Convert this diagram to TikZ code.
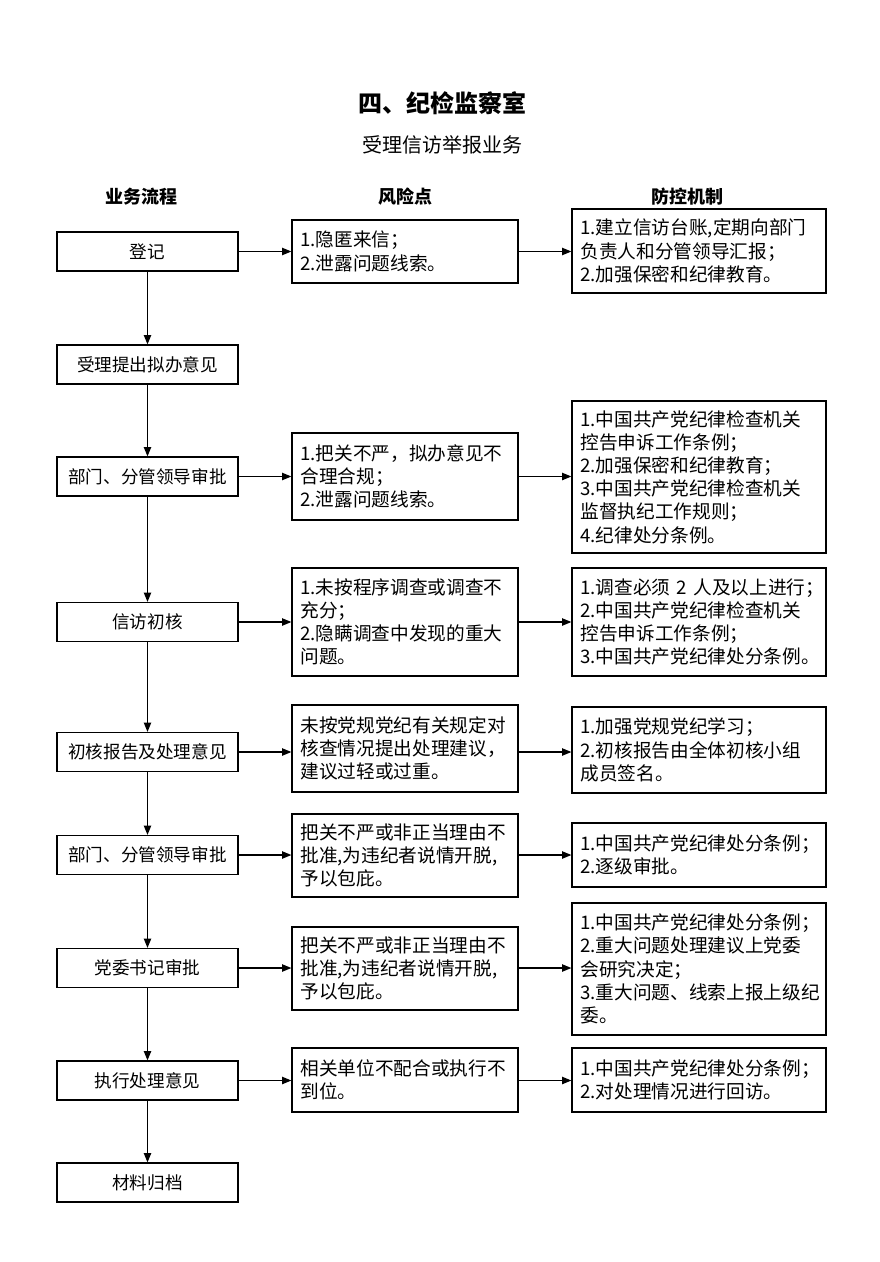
\documentclass[tikz,border=0pt]{standalone}
\usepackage{fontspec}
\setmainfont{Noto Sans CJK SC}
\usetikzlibrary{arrows.meta}
\begin{document}
\begin{tikzpicture}[x=0.75pt,y=-0.75pt,
  flowbox/.style={draw,line width=0.9pt,minimum width=135.75pt,minimum height=29.25pt,inner sep=0pt,font=\fontsize{13.2pt}{16pt}\selectfont},
  riskbox/.style={draw,line width=0.9pt,text width=157pt,inner xsep=6.25pt,inner ysep=0pt,align=left,font=\fontsize{14pt}{17.4pt}\selectfont},
  ctrlbox/.style={draw,line width=0.9pt,text width=178pt,inner xsep=6.25pt,inner ysep=0pt,align=left,font=\fontsize{14pt}{17.4pt}\selectfont},
  boxh/.style={minimum height=#1*0.75pt},
  head/.style={font=\fontsize{13.5pt}{16pt}\selectfont\bfseries},
  conn/.style={line width=0.9pt,-{Triangle[length=7pt,width=5.5pt]}}]
\useasboundingbox (0,0) rectangle (880,1262);
% titles
\node (title) at (442,103) {\fontsize{18pt}{20pt}\selectfont\bfseries 四、纪检监察室};
\node (sub) at (442,145) {\fontsize{15pt}{18pt}\selectfont 受理信访举报业务};
\node[head] (h1) at (141,197) {业务流程};
\node[head] (h2) at (405,197) {风险点};
\node[head] (h3) at (687,197) {防控机制};
% left flow
\node[flowbox] (L1) at (147.5,251.5) {登记};
\node[flowbox] (L2) at (147.5,364.5) {受理提出拟办意见};
\node[flowbox] (L3) at (147.5,476.5) {部门、分管领导审批};
\node[flowbox] (L4) at (147.5,622) {信访初核};
\node[flowbox] (L5) at (147.5,752) {初核报告及处理意见};
\node[flowbox] (L6) at (147.5,855) {部门、分管领导审批};
\node[flowbox] (L7) at (147.5,968) {党委书记审批};
\node[flowbox] (L8) at (147.5,1080.5) {执行处理意见};
\node[flowbox] (L9) at (147.5,1182.5) {材料归档};
% risks
\node[riskbox,boxh=63] (M1) at (405,251.5) {1.隐匿来信；\\2.泄露问题线索。};
\node[riskbox,boxh=87] (M3) at (405,476.5) {1.把关不严，拟办意见不\\合理合规；\\2.泄露问题线索。};
\node[riskbox,boxh=108] (M4) at (405,622) {1.未按程序调查或调查不\\充分；\\2.隐瞒调查中发现的重大\\问题。};
\node[riskbox,boxh=87] (M5) at (405,748.5) {未按党规党纪有关规定对\\核查情况提出处理建议，\\建议过轻或过重。};
\node[riskbox,boxh=83] (M6) at (405,855.5) {把关不严或非正当理由不\\批准,为违纪者说情开脱,\\予以包庇。};
\node[riskbox,boxh=83] (M7) at (405,968.5) {把关不严或非正当理由不\\批准,为违纪者说情开脱,\\予以包庇。};
\node[riskbox,boxh=64] (M8) at (405,1080) {相关单位不配合或执行不\\到位。};
% controls
\node[ctrlbox,boxh=84] (R1) at (699,251) {1.建立信访台账,定期向部门\\负责人和分管领导汇报；\\2.加强保密和纪律教育。};
\node[ctrlbox,boxh=152] (R3) at (699,477) {1.中国共产党纪律检查机关\\控告申诉工作条例；\\2.加强保密和纪律教育；\\3.中国共产党纪律检查机关\\监督执纪工作规则；\\4.纪律处分条例。};
\node[ctrlbox,boxh=108] (R4) at (699,622) {1.调查必须~2~人及以上进行；\\2.中国共产党纪律检查机关\\控告申诉工作条例；\\3.中国共产党纪律处分条例。};
\node[ctrlbox,boxh=86] (R5) at (699,750) {1.加强党规党纪学习；\\2.初核报告由全体初核小组\\成员签名。};
\node[ctrlbox,boxh=64] (R6) at (699,855) {1.中国共产党纪律处分条例；\\2.逐级审批。};
\node[ctrlbox,boxh=132] (R7) at (699,969) {1.中国共产党纪律处分条例；\\2.重大问题处理建议上党委\\会研究决定；\\3.重大问题、线索上报上级纪\\委。};
\node[ctrlbox,boxh=64] (R8) at (699,1080) {1.中国共产党纪律处分条例；\\2.对处理情况进行回访。};
% vertical connectors
\draw[conn] (L1) -- (L2);
\draw[conn] (L2) -- (L3);
\draw[conn] (L3) -- (L4);
\draw[conn] (L4) -- (L5);
\draw[conn] (L5) -- (L6);
\draw[conn] (L6) -- (L7);
\draw[conn] (L7) -- (L8);
\draw[conn] (L8) -- (L9);
% horizontal connectors
\foreach \i in {1,3,4,5,6,7,8}{
  \draw[conn] (L\i.east) -- (L\i.east -| M\i.west);
  \draw[conn] (M\i.east |- L\i.east) -- (R\i.west |- L\i.east);
}
\end{tikzpicture}
\end{document}
